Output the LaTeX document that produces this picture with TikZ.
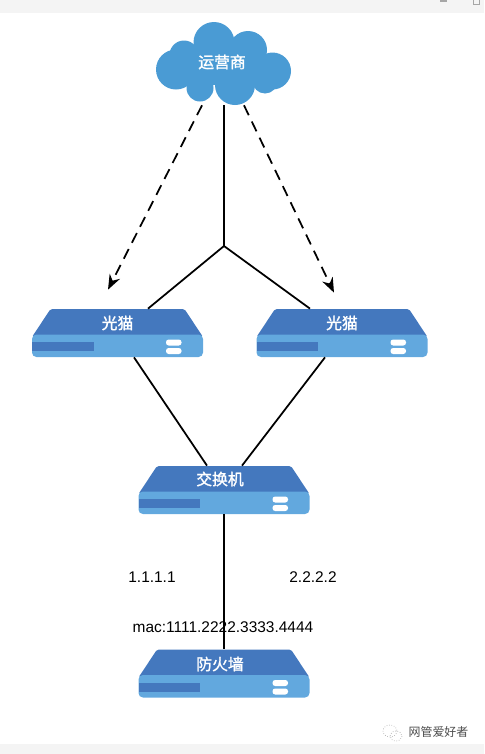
\documentclass[tikz,border=0pt]{standalone}
\usepackage{fontspec}
\setmainfont{Liberation Sans}
\newfontfamily\cjk{Noto Sans CJK SC}
\newfontfamily\cjkheavy[FakeBold=1.5]{Noto Sans CJK SC}
\usetikzlibrary{arrows.meta}
\definecolor{devdark}{HTML}{4478BE}
\definecolor{devlight}{HTML}{62A8DE}
\definecolor{cloudblue}{HTML}{4A9BD4}
\definecolor{stripgray}{HTML}{F4F4F4}
\tikzset{
  link/.style={line width=1pt,black},
  uplink/.style={link,dash pattern=on 6.2pt off 4pt,-{Stealth[length=8.5pt,width=6.5pt]}},
  devbox/.style={minimum width=3.42cm,minimum height=0.96cm,inner sep=0pt},
  devtext/.style={font=\cjkheavy\fontsize{9}{10}\selectfont,text=white,inner sep=0pt},
  addr/.style={font=\fontsize{8.8}{10}\selectfont,inner sep=0pt}
}
% one box: name, x, y, label, label position
\newcommand{\netdev}[5]{
  \begin{scope}[shift={(#2,#3)}]
    \fill[devdark,rounded corners=1pt] (-85.5,4) -- (-67,-24) -- (67,-24) -- (85.5,4) -- cycle;
    \fill[devlight,rounded corners=2.5pt] (-85.5,1.5) rectangle (85.5,24);
    \fill[devdark] (-85.5,9) rectangle (-24,18);
    \foreach \y in {6.5,15} {
      \fill[white,rounded corners=1.5pt] (48.5,\y) rectangle (64,\y+6);
    }
    \node[devbox] (#1) at (0,0) {};
    \node[devtext] (#1t) at (#5) {#4};
  \end{scope}
}
\begin{document}
\begin{tikzpicture}[x=0.02cm,y=-0.02cm]
  \useasboundingbox (0,0) rectangle (484,754);
  \fill[stripgray] (0,0) rectangle (484,13);
  \fill[stripgray] (0,744) rectangle (484,754);
  \fill[gray!70] (440,0) rectangle (447,2);
  \draw[gray!70,line width=0.5pt] (473,0) -- (473,4) -- (479,4) -- (479,0);

  % cloud
  \foreach \x/\y/\r in {176/69.5/20,184/55/14.5,214/42.5/20.5,248/50/19,272.5/71/18.5,265/81/12.5,235/85/20,200/88/13.5} {
    \fill[cloudblue] (\x,\y) circle (\r);
  }
  \fill[cloudblue] (180,50) rectangle (265,85);
  \node[minimum width=2.7cm,minimum height=1.66cm,inner sep=0pt] (cloud) at (224,63.5) {};
  \node[devtext] (cloudt) at (222,62) {运营商};

  \netdev{modemL}{117.5}{333}{光猫}{0,-10}
  \netdev{modemR}{342}{333}{光猫}{0,-10}
  \netdev{switch}{224}{490}{交换机}{-4,-11}
  \netdev{firewall}{224}{673.5}{防火墙}{-4,-9.5}

  \coordinate (fork) at (224,246);
  \draw[link] (cloud.south) -- (fork);
  \draw[link] (fork) -- ([shift={(30.5,0)}]modemL.north);
  \draw[link] (fork) -- ([shift={(-32,0)}]modemR.north);
  \draw[uplink] ([shift={(-22,0)}]cloud.south) -- ([shift={(-9.5,-19)}]modemL.north);
  \draw[uplink] ([shift={(20,0)}]cloud.south) -- ([shift={(-8,-16)}]modemR.north);
  \draw[link] ([shift={(16.5,0)}]modemL.south) -- ([shift={(-17,0)}]switch.north);
  \draw[link] ([shift={(-17,0)}]modemR.south) -- ([shift={(18,0)}]switch.north);
  \draw[link] (switch.south) -- (firewall.north);

  \node[addr] (ipL) at (152,577) {1.1.1.1};
  \node[addr] (ipR) at (313,577) {2.2.2.2};
  \node[addr] (mac) at (223,627.5) {mac:1111.2222.3333.4444};

  % corner mark
  \draw[gray!60,line width=0.4pt,densely dotted] (390,731) ellipse (7 and 6);
  \draw[gray!60,line width=0.4pt,densely dotted] (396,736) ellipse (6 and 5);
  \node[font=\cjk\fontsize{6.8}{8}\selectfont,text=black!70,inner sep=0pt] (mark) at (438.5,732) {网管爱好者};
\end{tikzpicture}
\end{document}
